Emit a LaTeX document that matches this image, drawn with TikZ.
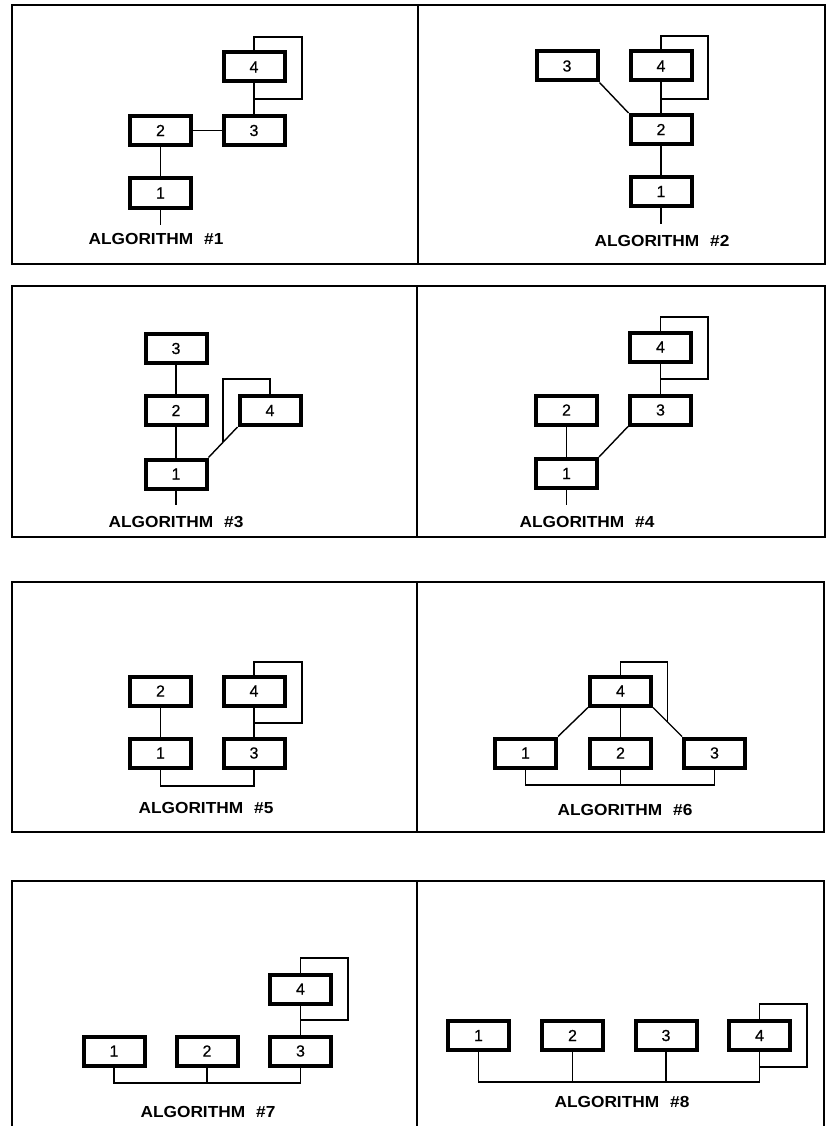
\documentclass[tikz,border=0pt]{standalone}
\usepackage{fontspec}
\setmainfont{Liberation Sans}
\newfontfamily\labfont[FakeStretch=1.08]{Liberation Sans}
\newfontfamily\digfont[FakeBold=0.6]{Liberation Sans}
\usetikzlibrary{calc}
\tikzset{
  blk/.style={draw, line width=4pt, minimum width=61pt, minimum height=29pt, inner sep=0pt,
              font=\digfont\fontsize{16}{16}\selectfont},
  wire/.style={line width=1.4pt},
  frame/.style={line width=1.6pt},
  lab/.style={anchor=base, inner sep=0pt, font=\labfont\bfseries\fontsize{16}{16}\selectfont}
}
\newcommand{\alg}[1]{ALGORITHM\hspace{11pt}\##1}
\begin{document}
\begin{tikzpicture}[x=1pt,y=-1pt]
\useasboundingbox (0,0) rectangle (832,1126);
% frames
\draw[frame] (12,5) rectangle (825,264);
\draw[frame] (418,5) -- (418,264);
\draw[frame] (12,286) rectangle (825,537);
\draw[frame] (417,286) -- (417,537);
\draw[frame] (12,582) rectangle (824,832);
\draw[frame] (417,582) -- (417,832);
\draw[frame] (12,1126) -- (12,881) -- (824,881) -- (824,1126);
\draw[frame] (417,881) -- (417,1126);

% ---------- Algorithm 1
\node[blk] (n11) at (160.5,193) {1};
\node[blk] (n12) at (160.5,130.5) {2};
\node[blk] (n13) at (254,130.5) {3};
\node[blk] (n14) at (254,67) {4};
\coordinate (t1) at (160.5,225);
\coordinate (L1a) at (302,37);
\coordinate (L1b) at (302,99);
\draw[wire] (n11) -- (n12);
\draw[wire] (n12) -- (n13);
\draw[wire] (n13) -- (n14);
\draw[wire] (n11.south) -- (t1);
\draw[wire] (n14.north) |- (L1a) -- (L1b) -- (L1b -| n14.south);
\node[lab] (a1) at (156,244) {\alg{1}};

% ---------- Algorithm 2
\node[blk] (n21) at (661,191.5) {1};
\node[blk] (n22) at (661,129.5) {2};
\node[blk] (n23) at (567,66) {3};
\node[blk] (n24) at (661,66) {4};
\coordinate (t2) at (661,224);
\coordinate (L2a) at (708,36);
\coordinate (L2b) at (708,99);
\draw[wire] (n21) -- (n22);
\draw[wire] (n22) -- (n24);
\draw[wire] (n23.south east) -- (n22.north west);
\draw[wire] (n21.south) -- (t2);
\draw[wire] (n24.north) |- (L2a) -- (L2b) -- (L2b -| n24.south);
\node[lab] (a2) at (662,246) {\alg{2}};

% ---------- Algorithm 3
\node[blk] (n31) at (176,474) {1};
\node[blk] (n32) at (176,410.5) {2};
\node[blk] (n33) at (176,348.5) {3};
\node[blk] (n34) at (270,410.5) {4};
\coordinate (t3) at (176,505);
\coordinate (L3a) at (0,379);
\draw[wire] (n31) -- (n32);
\draw[wire] (n32) -- (n33);
\draw[wire] (n31.north east) -- (n34.south west);
\coordinate (m3) at ($(n31.north east)!0.5!(n34.south west)$);
\draw[wire] (n31.south) -- (t3);
\draw[wire] (m3) |- (n34.north |- L3a) -- (n34.north);
\node[lab] (a3) at (176,527) {\alg{3}};

% ---------- Algorithm 4
\node[blk] (n41) at (566.5,473.5) {1};
\node[blk] (n42) at (566.5,410) {2};
\node[blk] (n43) at (660.5,410) {3};
\node[blk] (n44) at (660.5,347) {4};
\coordinate (t4) at (566.5,505);
\coordinate (L4a) at (708,317);
\coordinate (L4b) at (708,379);
\draw[wire] (n41) -- (n42);
\draw[wire] (n41.north east) -- (n43.south west);
\draw[wire] (n43) -- (n44);
\draw[wire] (n41.south) -- (t4);
\draw[wire] (n44.north) |- (L4a) -- (L4b) -- (L4b -| n44.south);
\node[lab] (a4) at (587,527) {\alg{4}};

% ---------- Algorithm 5
\node[blk] (n51) at (160.5,753) {1};
\node[blk] (n52) at (160.5,691) {2};
\node[blk] (n53) at (254,753) {3};
\node[blk] (n54) at (254,691) {4};
\coordinate (B5) at (0,786);
\coordinate (L5a) at (302,662);
\coordinate (L5b) at (302,723);
\draw[wire] (n51) -- (n52);
\draw[wire] (n53) -- (n54);
\draw[wire] (n51.south) -- (n51.south |- B5) -- (n53.south |- B5) -- (n53.south);
\draw[wire] (n54.north) |- (L5a) -- (L5b) -- (L5b -| n54.south);
\node[lab] (a5) at (206,813) {\alg{5}};

% ---------- Algorithm 6
\node[blk] (n61) at (525.5,753) {1};
\node[blk] (n62) at (620.5,753) {2};
\node[blk] (n63) at (714.5,753) {3};
\node[blk] (n64) at (620.5,691) {4};
\coordinate (B6) at (0,785);
\coordinate (L6) at (0,662);
\draw[wire] (n64.south west) -- (n61.north east);
\draw[wire] (n64.south east) -- (n63.north west);
\draw[wire] (n64) -- (n62);
\coordinate (m6) at ($(n64.south east)!0.5!(n63.north west)$);
\draw[wire] (n61.south) -- (n61.south |- B6) -- (n63.south |- B6) -- (n63.south);
\draw[wire] (n62.south) -- (n62.south |- B6);
\draw[wire] (n64.north) |- (m6 |- L6) -- (m6);
\node[lab] (a6) at (625,815) {\alg{6}};

% ---------- Algorithm 7
\node[blk] (n71) at (114,1051) {1};
\node[blk] (n72) at (207,1051) {2};
\node[blk] (n73) at (300.5,1051) {3};
\node[blk] (n74) at (300.5,989) {4};
\coordinate (B7) at (0,1083);
\coordinate (L7a) at (348,958);
\coordinate (L7b) at (348,1020);
\draw[wire] (n73) -- (n74);
\draw[wire] (n71.south) -- (n71.south |- B7) -- (n73.south |- B7) -- (n73.south);
\draw[wire] (n72.south) -- (n72.south |- B7);
\draw[wire] (n74.north) |- (L7a) -- (L7b) -- (L7b -| n74.south);
\node[lab] (a7) at (208,1117) {\alg{7}};

% ---------- Algorithm 8
\node[blk] (n81) at (478.5,1035.5) {1};
\node[blk] (n82) at (572.5,1035.5) {2};
\node[blk] (n83) at (666,1035.5) {3};
\node[blk] (n84) at (759.5,1035.5) {4};
\coordinate (B8) at (0,1082);
\coordinate (L8a) at (807,1004);
\coordinate (L8b) at (807,1067);
\draw[wire] (n81.south) -- (n81.south |- B8) -- (n84.south |- B8) -- (n84.south);
\draw[wire] (n82.south) -- (n82.south |- B8);
\draw[wire] (n83.south) -- (n83.south |- B8);
\draw[wire] (n84.north) |- (L8a) -- (L8b) -- (L8b -| n84.south);
\node[lab] (a8) at (622,1107) {\alg{8}};
\end{tikzpicture}
\end{document}
